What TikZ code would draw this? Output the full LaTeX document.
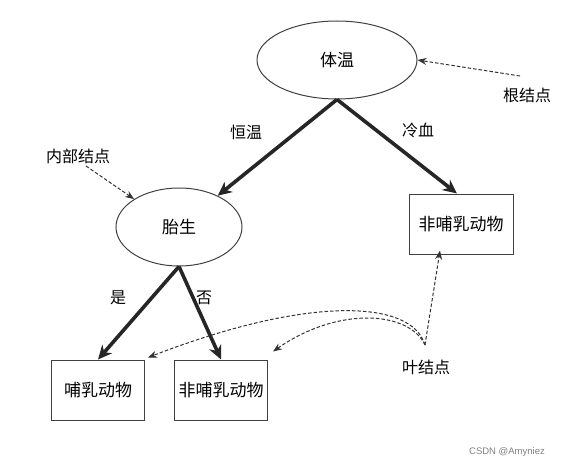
\documentclass[tikz,border=0pt]{standalone}
\usepackage{fontspec}
\newfontfamily\cjk{Noto Sans CJK SC}
\newfontfamily\wmfont{Liberation Sans}
\usetikzlibrary{shapes.geometric,arrows.meta}

\tikzset{
	treenode/.style={draw=black!75, line width=1pt, inner sep=0pt, font=\cjk\fontsize{17}{19}\selectfont},
	oval/.style={treenode, ellipse},
	leafbox/.style={treenode, rectangle, minimum height=60pt},
	branch/.style={line width=3.6pt, black!85, -{Stealth[length=14pt,width=13pt]}},
	hint/.style={line width=1pt, black!80, dashed, dash pattern=on 3.5pt off 2pt, -{Stealth[length=9pt,width=7pt]}},
	lbl/.style={font=\cjk\fontsize{16}{18}\selectfont, inner sep=1pt}
}

\begin{document}
\begin{tikzpicture}[x=1pt,y=-1pt]
	\useasboundingbox (0,0) rectangle (581,468);
	% tree nodes
	\node[oval, minimum width=160pt, minimum height=78pt] (root) at (337,60) {体温};
	\node[oval, minimum width=126pt, minimum height=78pt] (inner) at (179,227) {胎生};
	\node[leafbox, minimum width=104pt] (leafR) at (461,224) {非哺乳动物};
	\node[leafbox, minimum width=93pt] (leafA) at (98,390) {哺乳动物};
	\node[leafbox, minimum width=93pt] (leafB) at (221,390) {非哺乳动物};
	% branches
	\draw[branch] (root.south) -- (inner);
	\draw[branch] (root.south) -- ([xshift=-4pt]leafR.north);
	\draw[branch] (inner.south) -- (leafA.north);
	\draw[branch] (inner.south) -- (leafB.north);
	\node[lbl] (hw) at (246,132) {恒温};
	\node[lbl] (lx) at (418,130) {冷血};
	\node[lbl] (yes) at (118,298) {是};
	\node[lbl] (no) at (204,298) {否};
	% hints
	\node[lbl] (rootlbl) at (527,95) {根结点};
	\node[lbl] (innerlbl) at (78,156) {内部结点};
	\node[lbl] (leaflbl) at (426,367) {叶结点};
	\coordinate (a1) at (520,76);
	\coordinate (a2) at (86,166);
	\coordinate (a3) at (425,345);
	\draw[hint] (a1) -- (root.east);
	\draw[hint] (a2) -- (inner.north west);
	\draw[hint] (a3) -- ([xshift=-21pt,yshift=4pt]leafR.south);
	\draw[hint] (a3) .. controls (412,300) and (310,295) .. ([xshift=3pt,yshift=2pt]leafA.north east);
	\draw[hint] (a3) .. controls (410,312) and (340,305) .. ([xshift=5pt,yshift=8pt]leafB.north east);
	\node[font=\wmfont\fontsize{9.5}{11}\selectfont, text=black!50] (wm) at (507,452) {CSDN @Amyniez};
\end{tikzpicture}
\end{document}
